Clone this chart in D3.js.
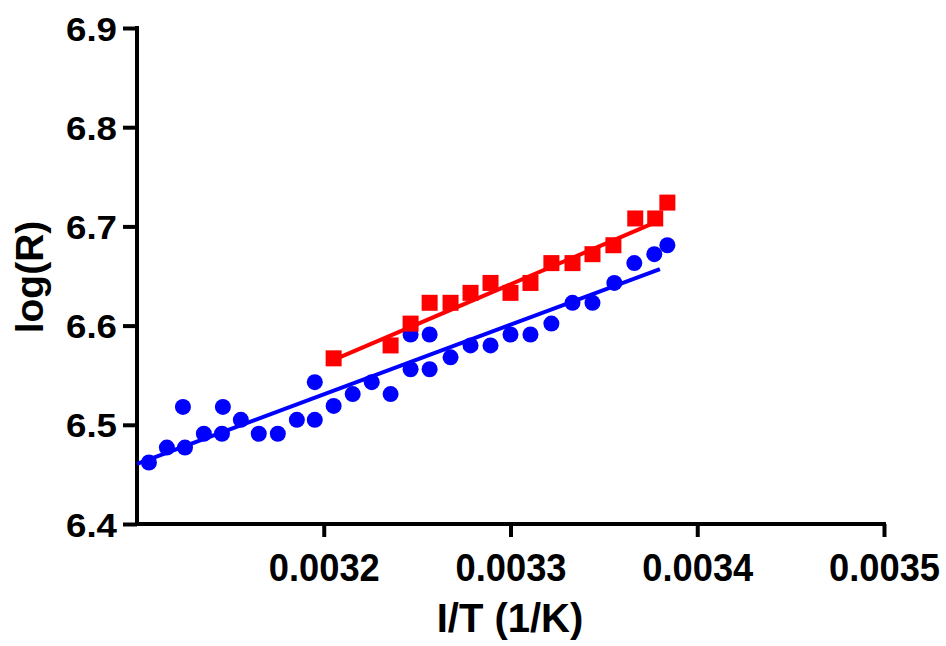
<!DOCTYPE html>
<html><head><meta charset="utf-8">
<script src="https://cdn.jsdelivr.net/npm/d3@7"></script>
<style>body{margin:0;background:#fff}svg{display:block}text{font-family:"Liberation Sans",Arial,sans-serif;font-weight:bold;fill:#000}</style>
</head><body>
<script>
// Data
const blueX = [0.0031064,0.0031160,0.0031246,0.0031257,0.0031358,0.0031455,0.0031460,0.0031556,0.0031652,0.0031754,0.0031856,0.0031952,0.0031952,0.0032053,0.0032155,0.0032257,0.0032358,0.0032465,0.0032465,0.0032567,0.0032567,0.0032679,0.0032786,0.0032893,0.0033000,0.0033107,0.0033219,0.0033332,0.0033439,0.0033556,0.0033663,0.0033770,0.0033840];
const blueY = [6.462,6.477,6.518,6.477,6.491,6.491,6.518,6.505,6.491,6.491,6.505,6.543,6.505,6.519,6.531,6.543,6.531,6.591,6.556,6.591,6.556,6.568,6.580,6.580,6.591,6.591,6.602,6.623,6.623,6.643,6.663,6.672,6.681];
const redX = [0.0032053,0.0032358,0.0032465,0.0032567,0.0032679,0.0032786,0.0032893,0.0033000,0.0033107,0.0033219,0.0033332,0.0033439,0.0033551,0.0033668,0.0033775,0.0033840];
const redY = [6.567,6.580,6.602,6.623,6.623,6.633,6.643,6.633,6.643,6.663,6.663,6.672,6.681,6.708,6.708,6.724];
const blueFitX = [0.0031, 0.003380];
const blueFitY = [6.4605, 6.657];
const redFitX = [0.0032053, 0.003380];
const redFitY = [6.5655, 6.706];
const xTicks = [0.0032, 0.0033, 0.0034, 0.0035];
const xTickLabels = ["0.0032", "0.0033", "0.0034", "0.0035"];
const yTicks = [6.4, 6.5, 6.6, 6.7, 6.8, 6.9];
const yTickLabels = ["6.4", "6.5", "6.6", "6.7", "6.8", "6.9"];

const W = 946, H = 646;
const svg = d3.select("body").append("svg").attr("width", W).attr("height", H);
const x = d3.scaleLinear().domain([0.0031, 0.0035]).range([137, 884]);
const y = d3.scaleLinear().domain([6.4, 6.9]).range([524, 28]);

// axes
const xAxis = d3.axisBottom(x).tickValues(xTicks).tickSize(13).tickFormat((d,i)=>xTickLabels[i]);
const gx = svg.append("g").attr("transform", `translate(0,${y(6.4)})`).call(xAxis);
gx.select(".domain").attr("d", `M${x(0.0031)-2},0H${x(0.0035)+2}`).attr("stroke","#000").attr("stroke-width",4);
gx.selectAll(".tick line").attr("stroke","#000").attr("stroke-width",4);
gx.selectAll(".tick text").attr("y", 57).attr("dy", null).style("font-size","38px")
  .attr("textLength", 111).attr("lengthAdjust","spacingAndGlyphs");

const yAxis = d3.axisLeft(y).tickValues(yTicks).tickSize(14).tickFormat((d,i)=>yTickLabels[i]);
const gy = svg.append("g").attr("transform", `translate(${x(0.0031)},0)`).call(yAxis);
gy.select(".domain").attr("d", `M0,${y(6.9)-2}V${y(6.4)+2}`).attr("stroke","#000").attr("stroke-width",4);
gy.selectAll(".tick line").attr("stroke","#000").attr("stroke-width",4);
gy.selectAll(".tick text").attr("x", -20).attr("dy", null).attr("y", 12).style("font-size","33px")
  .attr("textLength", 51).attr("lengthAdjust","spacingAndGlyphs");
svg.selectAll(".tick text").attr("font-family", null).attr("font-size", null);

// axis titles
svg.append("text").attr("x", 510).attr("y", 632).attr("text-anchor","middle").style("font-size","40px").text("I/T (1/K)");
svg.append("text").attr("transform","translate(43,277) rotate(-90)").attr("text-anchor","middle").style("font-size","39px").text("log(R)");

// fit lines
const line = d3.line().x(d=>x(d[0])).y(d=>y(d[1]));
svg.append("path").attr("d", line(d3.zip(blueFitX, blueFitY))).attr("stroke","#0000FF").attr("stroke-width",4).attr("fill","none");
svg.append("path").attr("d", line(d3.zip(redFitX, redFitY))).attr("stroke","#FF0000").attr("stroke-width",4).attr("fill","none");

// points
svg.append("g").selectAll("circle").data(d3.zip(blueX, blueY)).join("circle")
  .attr("cx", d=>x(d[0])).attr("cy", d=>y(d[1])).attr("r", 8).attr("fill","#0000FF");
svg.append("g").selectAll("rect").data(d3.zip(redX, redY)).join("rect")
  .attr("x", d=>x(d[0])-8).attr("y", d=>y(d[1])-8).attr("width", 16).attr("height", 16).attr("fill","#FF0000");
</script>
</body></html>
